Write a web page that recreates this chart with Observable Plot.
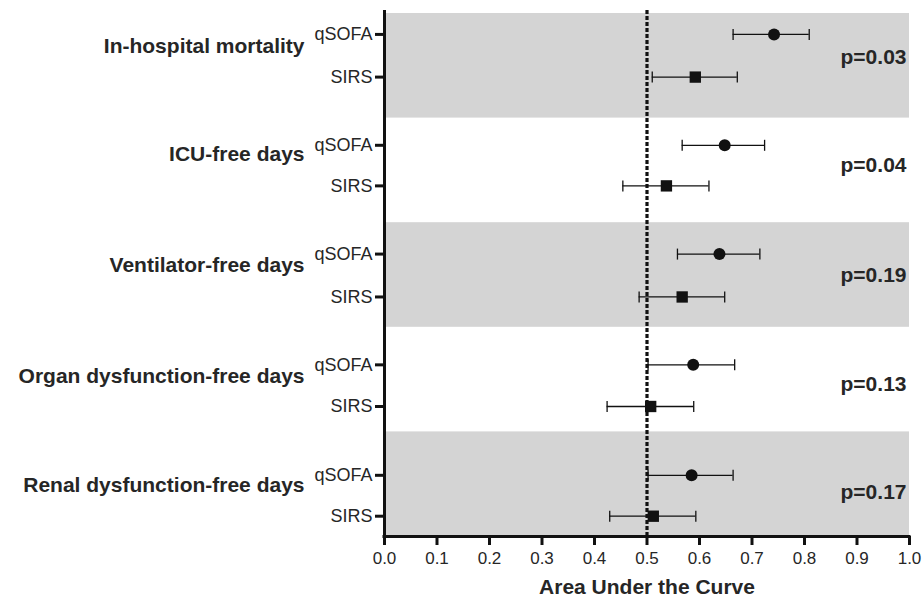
<!DOCTYPE html>
<html>
<head>
<meta charset="utf-8">
<script src="https://cdn.jsdelivr.net/npm/d3@7"></script>
<script src="https://cdn.jsdelivr.net/npm/@observablehq/plot@0.6"></script>
<style>
  html, body { margin: 0; padding: 0; background: #fff; }
  #chart svg { display: block; }
</style>
</head>
<body>
<div id="chart"></div>
<script>
// ---- data ----
const outcomes = ["In-hospital mortality", "ICU-free days", "Ventilator-free days", "Organ dysfunction-free days", "Renal dysfunction-free days"];
const pValues = ["p=0.03", "p=0.04", "p=0.19", "p=0.13", "p=0.17"];
const qsofaAUC = [0.742, 0.648, 0.638, 0.588, 0.585];
const qsofaLo  = [0.664, 0.567, 0.558, 0.502, 0.502];
const qsofaHi  = [0.809, 0.724, 0.715, 0.667, 0.664];
const sirsAUC  = [0.592, 0.537, 0.567, 0.507, 0.512];
const sirsLo   = [0.510, 0.454, 0.485, 0.424, 0.429];
const sirsHi   = [0.672, 0.618, 0.648, 0.589, 0.593];
// vertical positions (in outcome-band units, 0 = top)
const qsofaPos = [0.200, 1.260, 2.300, 3.359, 4.415];
const sirsPos  = [0.608, 1.648, 2.710, 3.757, 4.806];
const outcomeLabelPos = [0.31, 1.35, 2.41, 3.47, 4.51];
const pLabelPos = [0.42, 1.45, 2.50, 3.54, 4.58];
const bandStart = [0, 2, 4];
const bandEnd   = [1, 3, 5];
const xTicks = [0, 0.1, 0.2, 0.3, 0.4, 0.5, 0.6, 0.7, 0.8, 0.9, 1.0];
const refAUC = [0.5];
const xLabel = "Area Under the Curve";

// ---- build tables ----
const rows = [];
outcomes.forEach((o, i) => {
  rows.push({outcome: o, score: "qSOFA", pos: qsofaPos[i], auc: qsofaAUC[i], lo: qsofaLo[i], hi: qsofaHi[i]});
  rows.push({outcome: o, score: "SIRS", pos: sirsPos[i], auc: sirsAUC[i], lo: sirsLo[i], hi: sirsHi[i]});
});
const labelByPos = new Map(rows.map(r => [r.pos, r.score]));
const bands = bandStart.map((s, i) => ({y1: s, y2: bandEnd[i]}));
const groupLabels = outcomes.map((o, i) => ({text: o, pos: outcomeLabelPos[i]}));
const pLabels = pValues.map((p, i) => ({text: p, pos: pLabelPos[i]}));

const vbar = {
  draw(ctx, size) {
    const h = Math.sqrt(size / Math.PI);
    ctx.moveTo(0, -h);
    ctx.lineTo(0, h);
  }
};

const ink = "#111";
const textColor = "#262626";

const chart = Plot.plot({
  width: 922,
  height: 597,
  marginLeft: 384,
  marginRight: 13,
  marginTop: 13,
  marginBottom: 61,
  style: {fontFamily: "'Liberation Sans', Arial, sans-serif", background: "#fff"},
  x: {domain: [0, 1], axis: null},
  y: {domain: [0, 5], reverse: true, axis: null},
  marks: [
    Plot.rect(bands, {x1: 0, x2: 1, y1: "y1", y2: "y2", fill: "#d4d4d4"}),
    Plot.ruleX(refAUC, {stroke: ink, strokeWidth: 3.2, strokeDasharray: "4,2", insetTop: -3}),
    Plot.ruleY(rows, {y: "pos", x1: "lo", x2: "hi", stroke: ink, strokeWidth: 1.3}),
    Plot.dot(rows, {x: "lo", y: "pos", symbol: vbar, r: 5.5, fill: "none", stroke: ink, strokeWidth: 1.3}),
    Plot.dot(rows, {x: "hi", y: "pos", symbol: vbar, r: 5.5, fill: "none", stroke: ink, strokeWidth: 1.3}),
    Plot.dot(rows.filter(d => d.score === "qSOFA"), {x: "auc", y: "pos", symbol: "circle", r: 6, fill: ink, stroke: "none"}),
    Plot.dot(rows.filter(d => d.score === "SIRS"), {x: "auc", y: "pos", symbol: "square", r: 6.4, fill: ink, stroke: "none"}),
    // axes lines
    Plot.ruleX([0], {stroke: ink, strokeWidth: 3, insetTop: -3, insetBottom: -1.5}),
    Plot.ruleY([5], {stroke: ink, strokeWidth: 3, insetLeft: -1.5, insetRight: -1.5}),
    Plot.axisY(rows.map(r => r.pos), {
      tickFormat: d => labelByPos.get(d),
      tickSize: 9, tickPadding: 3, stroke: ink, strokeWidth: 3,
      fill: textColor, fontSize: 18, label: null
    }),
    Plot.axisX(xTicks, {
      tickFormat: d3.format(".1f"),
      tickSize: 9, tickPadding: 6, stroke: ink, strokeWidth: 3,
      fill: textColor, fontSize: 17, label: null
    }),
    Plot.text(groupLabels, {y: "pos", text: "text", frameAnchor: "left", textAnchor: "end", dx: -80,
      fontSize: 21, fontWeight: "bold", fill: textColor}),
    Plot.text(pLabels, {x: 1, y: "pos", text: "text", textAnchor: "end", dx: -3,
      fontSize: 21, fontWeight: "bold", fill: textColor}),
    Plot.text([xLabel], {frameAnchor: "bottom", dy: 57, text: d => d, fontSize: 21, fontWeight: "bold", fill: textColor})
  ]
});
document.getElementById("chart").appendChild(chart);
</script>
</body>
</html>
